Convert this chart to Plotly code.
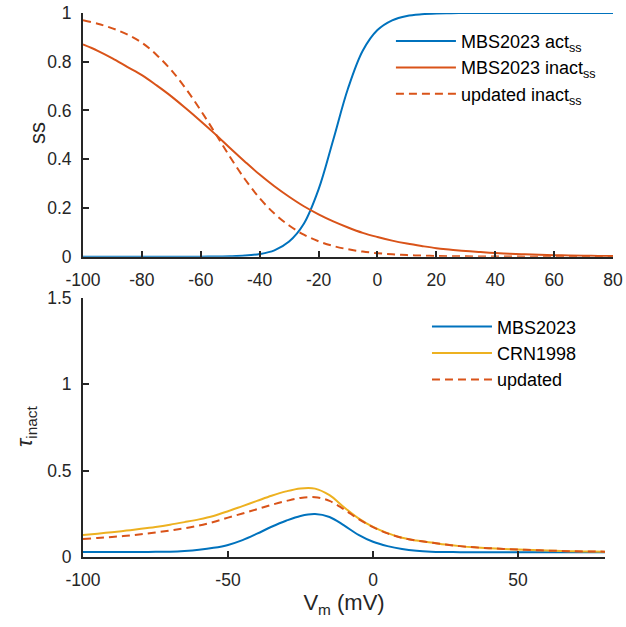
import plotly.graph_objects as go

# membrane potential grid (mV)
vm = [-100, -95, -90, -85, -80, -75, -70, -65, -60, -55, -50, -45, -40, -35, -30,
      -25, -20, -15, -10, -5, 0, 5, 10, 15, 20, 25, 30, 35, 40, 45, 50, 55, 60,
      65, 70, 75, 80]

# steady-state curves (top panel)
mbs_act_ss = [0, 0, 0, 0, 0, 0, 0, 0, 0.0003, 0.001, 0.002, 0.0045, 0.011, 0.026,
              0.062, 0.135, 0.276, 0.48, 0.69, 0.845, 0.93, 0.97, 0.988, 0.995,
              0.998, 0.999, 1, 1, 1, 1, 1, 1, 1, 1, 1, 1, 1]
mbs_inact_ss = [0.871, 0.845, 0.814, 0.779, 0.745, 0.703, 0.658, 0.608, 0.556,
                0.502, 0.445, 0.39, 0.337, 0.289, 0.246, 0.207, 0.174, 0.145,
                0.12, 0.098, 0.081, 0.066, 0.054, 0.044, 0.035, 0.029, 0.023,
                0.019, 0.015, 0.012, 0.0099, 0.008, 0.0064, 0.0052, 0.0042,
                0.0034, 0.0027]
upd_inact_ss = [0.97, 0.956, 0.937, 0.912, 0.878, 0.828, 0.765, 0.688, 0.6, 0.505,
                0.408, 0.318, 0.24, 0.177, 0.128, 0.0905, 0.0634, 0.044, 0.0305,
                0.021, 0.0144, 0.0098, 0.0067, 0.0046, 0.0031, 0.0021, 0.0014,
                0.001, 0.0007, 0.0005, 0.0003, 0.0002, 0.0001, 0.0001, 0, 0, 0]

# inactivation time constants (bottom panel)
tau_mbs = [0.029, 0.029, 0.029, 0.029, 0.029, 0.03, 0.031, 0.035, 0.042, 0.053,
           0.07, 0.098, 0.135, 0.175, 0.21, 0.238, 0.249, 0.232, 0.183, 0.128,
           0.088, 0.063, 0.046, 0.036, 0.031, 0.029, 0.028, 0.028, 0.028, 0.028,
           0.028, 0.028, 0.028, 0.028, 0.028, 0.028, 0.028]
tau_crn = [0.127, 0.135, 0.144, 0.153, 0.163, 0.174, 0.187, 0.202, 0.218, 0.238,
           0.265, 0.295, 0.325, 0.355, 0.38, 0.397, 0.396, 0.358, 0.288, 0.224,
           0.174, 0.138, 0.111, 0.095, 0.084, 0.072, 0.063, 0.056, 0.051, 0.047,
           0.043, 0.04, 0.037, 0.035, 0.033, 0.032, 0.031]
tau_upd = [0.104, 0.11, 0.116, 0.123, 0.132, 0.142, 0.153, 0.166, 0.182, 0.203,
           0.228, 0.252, 0.277, 0.302, 0.324, 0.342, 0.346, 0.325, 0.276, 0.22,
           0.173, 0.137, 0.111, 0.095, 0.084, 0.072, 0.063, 0.056, 0.051, 0.047,
           0.043, 0.04, 0.037, 0.035, 0.033, 0.032, 0.031]

top_ticks_x = [-100, -80, -60, -40, -20, 0, 20, 40, 60, 80]
top_ticks_y = [0, 0.2, 0.4, 0.6, 0.8, 1]
bot_ticks_x = [-100, -50, 0, 50]
bot_ticks_y = [0, 0.5, 1, 1.5]


def fmt(v):
    return "%g" % v  # plain hyphen-minus, like the reference


BLUE = "#0072BD"
ORANGE = "#D95319"
YELLOW = "#EDB120"
AX = "#262626"
FONT = "Liberation Sans, Arial, sans-serif"
DASH = "8px,5px"

fig = go.Figure()

fig.add_trace(go.Scatter(x=vm, y=mbs_act_ss, mode="lines", line=dict(color=BLUE, width=2, shape="spline"),
                         name="MBS2023 act<sub>ss</sub>", xaxis="x", yaxis="y", legend="legend"))
fig.add_trace(go.Scatter(x=vm, y=mbs_inact_ss, mode="lines", line=dict(color=ORANGE, width=2, shape="spline"),
                         name="MBS2023 inact<sub>ss</sub>", xaxis="x", yaxis="y", legend="legend"))
fig.add_trace(go.Scatter(x=vm, y=upd_inact_ss, mode="lines",
                         line=dict(color=ORANGE, width=2, dash=DASH, shape="spline"),
                         name="updated inact<sub>ss</sub>", xaxis="x", yaxis="y", legend="legend"))

fig.add_trace(go.Scatter(x=vm, y=tau_mbs, mode="lines", line=dict(color=BLUE, width=2, shape="spline"),
                         name="MBS2023", xaxis="x2", yaxis="y2", legend="legend2"))
fig.add_trace(go.Scatter(x=vm, y=tau_crn, mode="lines", line=dict(color=YELLOW, width=2, shape="spline"),
                         name="CRN1998", xaxis="x2", yaxis="y2", legend="legend2"))
fig.add_trace(go.Scatter(x=vm, y=tau_upd, mode="lines",
                         line=dict(color=ORANGE, width=2, dash=DASH, shape="spline"),
                         name="updated", xaxis="x2", yaxis="y2", legend="legend2"))

axis_common = dict(showline=True, linecolor=AX, linewidth=2, ticks="inside", ticklen=6,
                   tickwidth=2, tickcolor=AX, showgrid=False, zeroline=False,
                   tickfont=dict(family=FONT, size=17.5, color=AX), mirror=False,
                   ticklabelstandoff=6, automargin=False)

fig.update_layout(
    width=626, height=627,
    margin=dict(l=83, r=13, t=13, b=70, autoexpand=False),
    paper_bgcolor="white", plot_bgcolor="white",
    font=dict(family=FONT, color=AX),
    xaxis=dict(domain=[0, 1], range=[-100, 80], tickvals=top_ticks_x,
               ticktext=[fmt(v) for v in top_ticks_x], anchor="y", **axis_common),
    yaxis=dict(domain=[0.552, 1], range=[0, 1], tickvals=top_ticks_y,
               ticktext=[fmt(v) for v in top_ticks_y], anchor="x", **axis_common),
    xaxis2=dict(domain=[0, 0.985], range=[-100, 80], tickvals=bot_ticks_x,
                ticktext=[fmt(v) for v in bot_ticks_x], anchor="y2",
                title=dict(text="V<sub>m</sub> (mV)", font=dict(size=22, family=FONT, color=AX), standoff=2),
                **axis_common),
    yaxis2=dict(domain=[0, 0.476], range=[0, 1.5], tickvals=bot_ticks_y,
                ticktext=[fmt(v) for v in bot_ticks_y], anchor="x2", **axis_common),
    legend=dict(x=0.581, y=0.982, xanchor="left", yanchor="top", bgcolor="rgba(0,0,0,0)",
                borderwidth=0, font=dict(family=FONT, size=18, color="#000000"), itemwidth=60),
    legend2=dict(x=0.649, y=0.457, xanchor="left", yanchor="top", bgcolor="rgba(0,0,0,0)",
                 borderwidth=0, font=dict(family=FONT, size=18, color="#000000"), itemwidth=60),
    showlegend=True,
    annotations=[
        dict(text="ss", xref="paper", yref="paper", x=(37 - 83) / 530, y=(557 - 133) / 544,
             xanchor="center", yanchor="middle", textangle=-90, showarrow=False,
             font=dict(family=FONT, size=22, color=AX)),
        dict(text="<i>τ</i><sub>inact</sub>", xref="paper", yref="paper", x=(26 - 83) / 530,
             y=(557 - 427) / 544, xanchor="center", yanchor="middle", textangle=-90, showarrow=False,
             font=dict(family=FONT, size=22, color=AX)),
    ],
)

fig.write_html("out.html")
